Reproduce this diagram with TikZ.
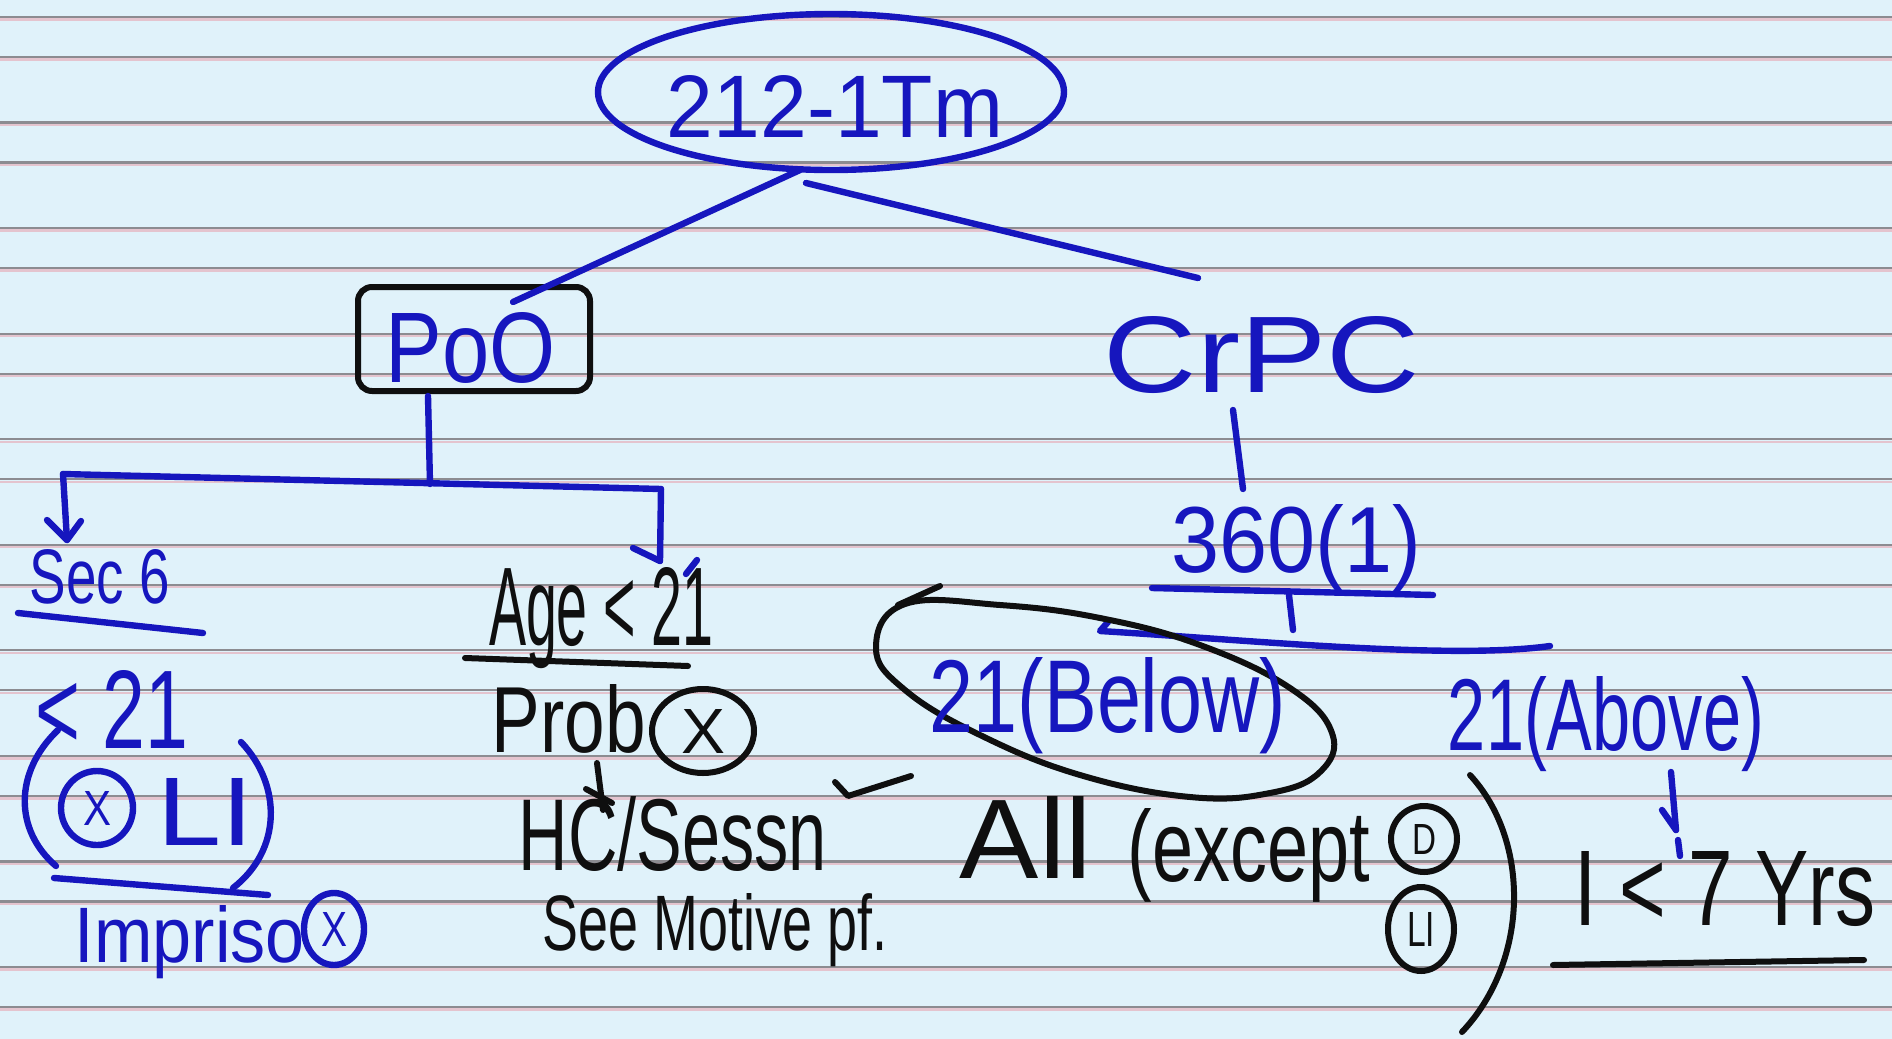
\documentclass[tikz,border=0pt]{standalone}
\usepackage{fontspec}
\setmainfont{Liberation Sans}
\usepackage{graphicx}
\usetikzlibrary{shapes.geometric,calc}
\definecolor{paper}{RGB}{224,242,250}
\definecolor{rulegray}{RGB}{140,140,145}
\definecolor{rulepink}{RGB}{228,196,206}
\definecolor{inkblue}{RGB}{22,22,190}
\definecolor{inkblack}{RGB}{15,15,15}
\newcommand{\hw}[3]{\resizebox{#1pt}{#2pt}{#3}}
\begin{document}
\begin{tikzpicture}[x=0.5pt,y=-0.5pt,
  bl/.style={draw=inkblue,line width=3.2pt,line cap=round,line join=round},
  bk/.style={draw=inkblack,line width=3pt,line cap=round,line join=round},
  tb/.style={text=inkblue,inner sep=0pt,anchor=base},
  tk/.style={text=inkblack,inner sep=0pt,anchor=base},
  cb/.style={ellipse,draw=inkblue,line width=3.2pt,text=inkblue,inner sep=0pt},
  ck/.style={ellipse,draw=inkblack,line width=3pt,text=inkblack,inner sep=0pt},
]
\fill[paper] (0,0) rectangle (1892,1039);
\useasboundingbox (0,0) rectangle (1892,1039);
\foreach \k in {0,...,9}{
  \pgfmathsetmacro{\ya}{17+105.55*\k}
  \pgfmathsetmacro{\yb}{\ya+40}
  \foreach \yy in {\ya,\yb}{
    \draw[rulepink,line width=1.2pt] (0,\yy+2.5) -- (1892,\yy+2.5);
    \draw[rulegray,line width=1.1pt] (0,\yy) -- (1892,\yy);
  }
}
% root
\node[cb, minimum width=233pt, minimum height=78pt] (root) at (831,92) {};
\node[tb] (roottxt) at (835,137) {\hw{168}{31}{212-1Tm}};
% PoO box
\node[draw=inkblack,line width=3pt,rounded corners=7pt,minimum width=116pt,minimum height=52pt] (pob) at (474,339) {};
\node[tb] (potxt) at (471,382) {\hw{85}{35}{PoO}};
% root connectors
\coordinate (rootL) at (800,170);
\coordinate (pobIn) at (513,302);
\draw[bl] (rootL) -- (pobIn);
\coordinate (rootR) at (806,183);
\coordinate (crpcEnd) at (1198,278);
\draw[bl] (rootR) -- (crpcEnd);
% bracket
\coordinate (brL) at (63,474);
\coordinate (brR) at (661,489);
\coordinate (brM) at (430,484);
\draw[bl] ($(pob.south)+(-46,2)$) -- (brM);
\draw[bl] (brL) -- (brR);
\coordinate (secTop) at (67,540);
\draw[bl] (brL) -- (secTop);
\draw[bl] (47,520) -- (secTop) -- (81,521);
\coordinate (ageTop) at (660,561);
\draw[bl] (brR) -- (ageTop);
\draw[bl] (633,548) -- (ageTop);
\draw[bl] (686,574) -- (697,560);
% left branch
\node[tb] (sec) at (100,603) {\hw{70}{27}{Sec 6}};
\draw[bl] (18,613) -- (203,633);
\node[tb] (lt21) at (112,748) {\hw{76}{39}{< 21}};
\node[cb, minimum width=36pt, minimum height=37pt] (cx1) at (97,808) {\hw{14}{17}{X}};
\node[tb] (li1) at (205,845) {\hw{48}{33.5}{LI}};
\draw[bl] (58,730) .. controls (14,772) and (14,830) .. (56,866);
\draw[bl] (241,742) .. controls (282,785) and (282,850) .. (233,888);
\draw[bl] (54,878) -- (268,895);
\node[tb] (imp) at (190,962) {\hw{115}{28.5}{Impriso}};
\node[cb, minimum width=30pt, minimum height=36pt] (cx2) at (334,929) {\hw{13}{17}{X}};
% middle branch
\node[tk] (age) at (601,645) {\hw{112}{39}{Age < 21}};
\draw[bk] (465,658) -- (688,666);
\node[tk] (prob) at (569,752) {\hw{77}{34}{Prob}};
\node[ck, minimum width=51pt, minimum height=42pt] (cx3) at (703,731) {\hw{22}{22}{X}};
\draw[bk] (597,763) -- (603,810);
\draw[bk] (586,789) -- (612,803);
\node[tk] (hc) at (673,870) {\hw{154}{37}{HC/Sessn}};
\node[tk] (see) at (715,950) {\hw{172}{28.5}{See Motive pf.}};
\draw[bk] (835,782) -- (848,796) -- (911,776);
% right branch
\node[tb] (crpc) at (1262,392) {\hw{158}{38}{CrPC}};
\coordinate (crpcA) at (1233,410);
\coordinate (crpcB) at (1243,489);
\draw[bl] (crpcA) -- (crpcB);
\node[tb] (s360) at (1296,572) {\hw{125}{34}{360(1)}};
\draw[bl] (1152,588) -- (1433,595);
\draw[bl] (1289,595) -- (1293,630);
\draw[bl] (1108,622) -- (1100,631) .. controls (1250,640) and (1450,660) .. (1550,646);
\draw[bk] plot[smooth cycle, tension=0.7] coordinates {(905,604) (1000,605) (1100,618) (1200,645) (1290,688) (1332,733) (1320,772) (1270,793) (1190,797) (1080,775) (980,735) (905,690) (876,648)};
\draw[bk] (898,605) -- (940,586);
\node[tb] (below) at (1108,732) {\hw{178}{37.5}{21(Below)}};
\node[tb] (above) at (1606,750) {\hw{158}{37}{21(Above)}};
\draw[bl] (1671,772) -- (1676,830);
\draw[bl] (1662,810) -- (1676,830);
\draw[bl] (1678,840) -- (1680,856);
\node[tk] (i7) at (1725,925) {\hw{150}{37}{I < 7 Yrs}};
\draw[bk] (1553,965) -- (1864,960);
\node[tk] (all) at (1026,878) {\hw{66}{41}{All}};
\node[tk] (exc) at (1249,881) {\hw{121}{36.5}{(except}};
\node[ck, minimum width=33pt, minimum height=33pt] (cd) at (1424,839) {\hw{12}{15}{D}};
\node[ck, minimum width=33pt, minimum height=42pt] (cli) at (1421,929) {\hw{14}{17}{LI}};
\draw[bk] (1470,775) .. controls (1530,840) and (1530,960) .. (1462,1032);
\end{tikzpicture}
\end{document}
